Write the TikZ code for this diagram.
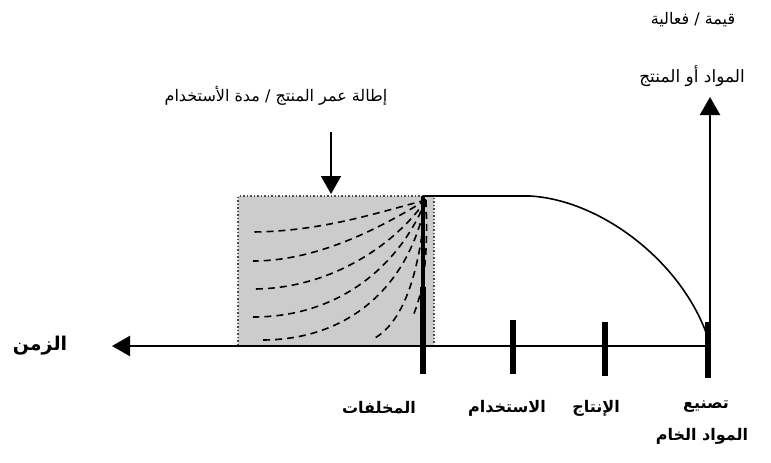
\documentclass[tikz,border=0pt]{standalone}
\usepackage{fontspec}
\newfontfamily\arabicfont[Script=Arabic]{DejaVu Sans}
\TeXXeTstate=1
\usetikzlibrary{arrows.meta}
\begin{document}
\begin{tikzpicture}[x=1pt,y=-1pt,
  axisline/.style={line width=2.4pt},
  tickbar/.style={line width=5.5pt},
  headtip/.style={-{Triangle[width=20pt,length=18pt]}},
  fanline/.style={line width=1.6pt, dash pattern=on 7pt off 5pt},
  toplabel/.style={font=\arabicfont\fontsize{16}{18}\selectfont, inner sep=1pt},
  botlabel/.style={font=\arabicfont\bfseries\fontsize{16}{18}\selectfont, inner sep=1pt}]
\useasboundingbox[fill=white] (0,0) rectangle (771,463);

% coordinates
\coordinate (O) at (710,346);
\coordinate (xend) at (112,346);
\coordinate (ytop) at (710,97);
\coordinate (darrS) at (331,132);
\coordinate (darrE) at (331,194);
\coordinate (corner) at (426,200);

% shaded box
\node[draw=gray!60!black, dotted, line width=1.5pt, fill=gray!40, minimum width=196pt, minimum height=150pt, inner sep=0pt] (box) at (336,271) {};

% fan curves
\draw[fanline] (corner) .. controls (380,212) and (320,232) .. (250,232);
\draw[fanline] (corner) .. controls (385,225) and (320,261) .. (253,261);
\draw[fanline] (corner) .. controls (395,245) and (330,289) .. (253,289);
\draw[fanline] (corner) .. controls (400,265) and (340,317) .. (253,317);
\draw[fanline] (corner) .. controls (410,285) and (350,340) .. (262,340);
\draw[fanline] (corner) .. controls (420,270) and (405,320) .. (375,338);
\draw[fanline] (corner) .. controls (428,250) and (425,290) .. (412,318);

% axes
\draw[axisline, headtip] (O) -- (xend);
\draw[axisline, headtip] (O) -- (ytop);

% ticks
\coordinate (t1a) at (423,196); \coordinate (t1b) at (423,374); \coordinate (t1c) at (423,287);
\draw[line width=4pt] (t1a) -- (t1b);
\draw[line width=6pt] (t1c) -- (t1b);
\coordinate (t2a) at (513,320); \coordinate (t2b) at (513,374);
\draw[tickbar] (t2a) -- (t2b);
\coordinate (t3a) at (605,322); \coordinate (t3b) at (605,376);
\draw[tickbar] (t3a) -- (t3b);
\coordinate (t4a) at (708,322); \coordinate (t4b) at (708,378);
\draw[tickbar] (t4a) -- (t4b);

% value curve
\coordinate (c1) at (530,196);
\coordinate (c2) at (707,335);
\draw[line width=1.6pt] (t1a) -- (c1) .. controls (600,200) and (680,260) .. (c2);

% down arrow
\draw[line width=1.8pt, headtip] (darrS) -- (darrE);

% labels
\node[toplabel] (lext) at (276,96) {\beginR إطالة عمر المنتج / مدة الأستخدام\endR};
\node[toplabel] (lval1) at (693,20) {\beginR قيمة / فعالية\endR};
\node[toplabel, font=\arabicfont\fontsize{17}{19}\selectfont] (lval2) at (692,76) {\beginR المواد أو المنتج\endR};
\node[botlabel, font=\arabicfont\bfseries\fontsize{19}{21}\selectfont] (ltime) at (40,346) {\beginR الزمن\endR};
\node[botlabel] (lwaste) at (379,408) {\beginR المخلفات\endR};
\node[botlabel] (luse) at (507,408) {\beginR الاستخدام\endR};
\node[botlabel] (lprod) at (596,408) {\beginR الإنتاج\endR};
\node[botlabel] (lmanu) at (706,407) {\beginR تصنيع\endR};
\node[botlabel] (lraw) at (702,436) {\beginR المواد الخام\endR};
\end{tikzpicture}
\end{document}
